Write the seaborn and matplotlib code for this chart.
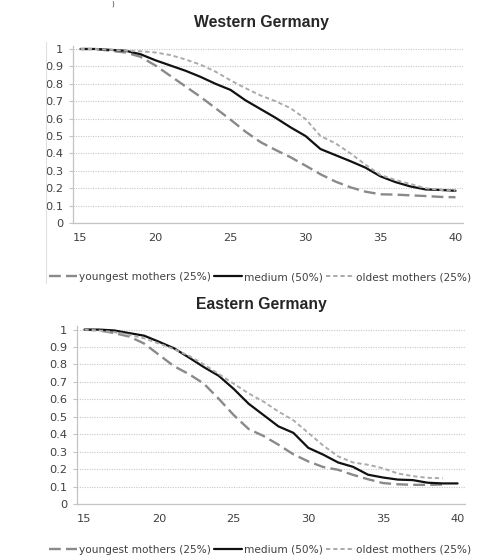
import numpy as np
import pandas as pd
import matplotlib
matplotlib.use('Agg')
import matplotlib.pyplot as plt
from matplotlib.lines import Line2D
import seaborn as sns

# share of women still childless, by age
ages = list(range(15, 41))

west_youngest = [1.0, 1.0, 0.99, 0.98, 0.955, 0.905, 0.845, 0.785, 0.725, 0.66, 0.594, 0.525, 0.465,
                 0.42, 0.378, 0.33, 0.28, 0.238, 0.205, 0.18, 0.165, 0.163, 0.159, 0.155, 0.15, 0.148]
west_medium = [1.0, 1.0, 0.995, 0.99, 0.97, 0.935, 0.905, 0.875, 0.84, 0.80, 0.765, 0.705, 0.655,
               0.605, 0.55, 0.50, 0.425, 0.39, 0.355, 0.318, 0.268, 0.235, 0.21, 0.193, 0.19, 0.185]
west_oldest = [1.0, 1.0, 0.995, 0.99, 0.987, 0.98, 0.965, 0.94, 0.91, 0.87, 0.82, 0.775, 0.733,
               0.70, 0.66, 0.598, 0.50, 0.458, 0.40, 0.335, 0.276, 0.247, 0.224, 0.20, 0.19, 0.186]

east_youngest = [1.0, 0.995, 0.98, 0.96, 0.92, 0.855, 0.79, 0.745, 0.69, 0.603, 0.51, 0.43, 0.39,
                 0.34, 0.285, 0.244, 0.212, 0.196, 0.167, 0.142, 0.12, 0.113, 0.11, 0.11, 0.112, np.nan]
east_medium = [1.0, 1.0, 0.995, 0.98, 0.965, 0.93, 0.893, 0.84, 0.785, 0.735, 0.66, 0.575, 0.51,
               0.445, 0.408, 0.322, 0.283, 0.238, 0.213, 0.168, 0.152, 0.14, 0.137, 0.122, 0.118, 0.118]
east_oldest = [1.0, 0.995, 0.985, 0.97, 0.95, 0.92, 0.888, 0.85, 0.80, 0.745, 0.69, 0.634, 0.587,
               0.53, 0.48, 0.408, 0.335, 0.273, 0.238, 0.225, 0.205, 0.175, 0.16, 0.15, 0.148, np.nan]

group_labels = ['youngest mothers (25%)', 'medium (50%)', 'oldest mothers (25%)']
titles = ['Western Germany', 'Eastern Germany']
x_ticks = [15, 20, 25, 30, 35, 40]
y_ticks = [0, 0.1, 0.2, 0.3, 0.4, 0.5, 0.6, 0.7, 0.8, 0.9, 1]
y_tick_labels = ['0', '0.1', '0.2', '0.3', '0.4', '0.5', '0.6', '0.7', '0.8', '0.9', '1']

sns.set_style('white')
plt.rcParams['font.family'] = ['DejaVu Sans']

styles = {
    group_labels[0]: dict(color='#8a8a8a', lw=1.7, ls=(0, (5, 2.2))),
    group_labels[1]: dict(color='#111111', lw=1.6, ls='-'),
    group_labels[2]: dict(color='#ababab', lw=1.4, ls=(0, (2.2, 1.5))),
}

fig = plt.figure(figsize=(4.8, 5.56), dpi=100)
# axes boxes in pixels: left, right, y of value 0, px per unit
boxes = [(73, 463, 223, 174.0), (77, 465, 504, 174.4)]
series = [[west_youngest, west_medium, west_oldest], [east_youngest, east_medium, east_oldest]]
title_y = [23, 305]
legend_y = [277, 550]
tick_color = '#404040'

for i in range(2):
    l, r, y0, ppu = boxes[i]
    ymax = 1.02
    ax = fig.add_axes([l / 480, 1 - y0 / 556, (r - l) / 480, ppu * ymax / 556])
    df = pd.DataFrame({'age': ages * 3,
                       'share': series[i][0] + series[i][1] + series[i][2],
                       'group': [g for g in group_labels for _ in ages]})
    for g in group_labels:
        st = styles[g]
        sns.lineplot(data=df[df['group'] == g], x='age', y='share', ax=ax, color=st['color'],
                     linewidth=st['lw'], linestyle=st['ls'], label=g, zorder=3)
    ax.set_xlim(14.5, 40.5)
    ax.set_ylim(0, ymax)
    ax.set_xlabel('')
    ax.set_ylabel('')
    ax.set_yticks(y_ticks)
    ax.set_yticklabels(y_tick_labels)
    ax.set_xticks(x_ticks)
    ax.set_xticks(np.arange(14.5, 41, 1), minor=True)
    ax.tick_params(axis='x', which='major', length=0, pad=7, labelsize=8.2, labelcolor=tick_color)
    ax.tick_params(axis='x', which='minor', length=3, width=0.8, color='#c4c4c4', direction='out')
    ax.tick_params(axis='y', length=3, width=0.8, color='#c4c4c4', pad=4, labelsize=8.2,
                   labelcolor=tick_color, left=True)
    ax.yaxis.grid(True, color='#c8c8c8', linestyle=(0, (1, 1.2)), linewidth=0.8)
    ax.xaxis.grid(False)
    for s in ['top', 'right']:
        ax.spines[s].set_visible(False)
    for s in ['left', 'bottom']:
        ax.spines[s].set_color('#c4c4c4')
        ax.spines[s].set_linewidth(0.9)
    ax.get_legend().remove()
    fig.text(261 / 480, 1 - title_y[i] / 556, titles[i], ha='center', va='center',
             fontsize=11.3, fontweight='bold', family='Liberation Sans')
    handles = [Line2D([], [], color=styles[g]['color'], lw=styles[g]['lw'], ls=styles[g]['ls'])
               for g in group_labels]
    fig.legend(handles, group_labels, loc='center', ncol=3, frameon=False,
               bbox_to_anchor=(260 / 480, 1 - legend_y[i] / 556), fontsize=7.6,
               handlelength=2.7, handletextpad=0.15, columnspacing=0.3, labelcolor=tick_color)

# faint chart border on the left of the upper panel and a clipped character at the top
fig.add_artist(Line2D([46 / 480, 46 / 480], [1 - 42 / 556, 1 - 283 / 556], color='#e0e0e0', lw=0.8))
fig.text(113 / 480, 0.999, ')', ha='center', va='top', fontsize=5, color='#333333')

fig.savefig('out.png', dpi=100)
